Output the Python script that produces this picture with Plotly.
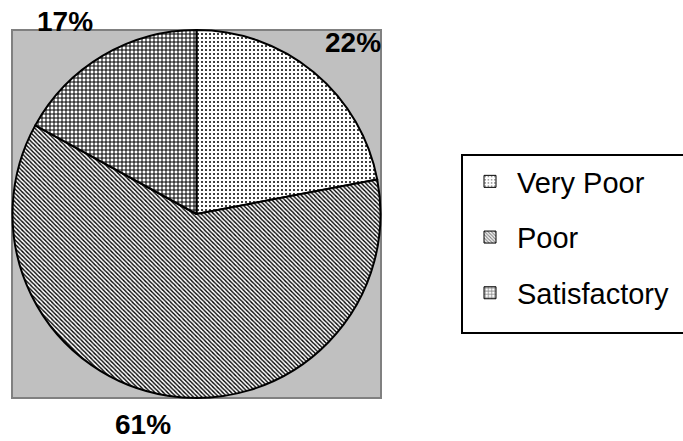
import plotly.graph_objects as go

labels = ["Very Poor", "Poor", "Satisfactory"]
values = [22, 61, 17]
pct_text = [f"{v}%" for v in values]

W, H = 683, 441
FONT = "Arial, Liberation Sans, sans-serif"

patterns = [
    dict(shape=".", fgcolor="black", bgcolor="white", size=4, solidity=0.2),
    dict(shape="\\", fgcolor="black", bgcolor="white", size=3, solidity=0.45),
    dict(shape="+", fgcolor="black", bgcolor="white", size=4, solidity=0.45),
]

def px(x):
    return x / W

def py(y):
    return 1 - y / H

fig = go.Figure()
fig.add_trace(go.Pie(
    labels=labels, values=values, sort=False, direction="clockwise", rotation=0,
    textinfo="none", showlegend=False, hoverinfo="label+percent",
    marker=dict(colors=["white"] * 3, line=dict(color="black", width=2),
                pattern=dict(shape=[p["shape"] for p in patterns],
                             fgcolor="black", bgcolor="white",
                             size=[p["size"] for p in patterns],
                             solidity=[p["solidity"] for p in patterns])),
    domain=dict(x=[px(12), px(381)], y=[py(398), py(30)]),
))

# legend entries (one group each so spacing can be set)
for lab, p in zip(labels, patterns):
    fig.add_trace(go.Bar(x=[None], y=[None], name=lab, legendgroup=lab,
                         marker=dict(color="white", line=dict(color="black", width=1),
                                     pattern=p)))

annots = []
ann_pos = [(353, 42), (143, 424), (65, 22)]
for t, (ax, ay) in zip(pct_text, ann_pos):
    annots.append(dict(x=px(ax), y=py(ay), xref="paper", yref="paper", text=f"<b>{t}</b>",
                       showarrow=False, font=dict(family=FONT, size=28, color="black"),
                       xanchor="center", yanchor="middle"))

fig.update_layout(
    width=W, height=H, margin=dict(l=0, r=0, t=0, b=0),
    paper_bgcolor="white", plot_bgcolor="white",
    xaxis=dict(visible=False), yaxis=dict(visible=False),
    shapes=[
        dict(type="rect", xref="paper", yref="paper", x0=px(12), x1=px(381),
             y0=py(398), y1=py(30), fillcolor="#c0c0c0",
             line=dict(color="#808080", width=2), layer="below"),
        dict(type="rect", xref="paper", yref="paper", x0=px(462), x1=px(700),
             y0=py(333), y1=py(155), fillcolor="rgba(0,0,0,0)",
             line=dict(color="black", width=2), layer="above"),
    ],
    annotations=annots,
    legend=dict(x=px(463), y=py(156), xanchor="left", yanchor="top",
                borderwidth=0, bgcolor="rgba(0,0,0,0)",
                font=dict(family=FONT, size=29, color="black"),
                tracegroupgap=15, itemwidth=44, entrywidth=200, entrywidthmode="pixels",
                traceorder="grouped"),
)

fig.write_html("out.html", config={"displayModeBar": False},
               post_script="document.body.style.margin='0';")
